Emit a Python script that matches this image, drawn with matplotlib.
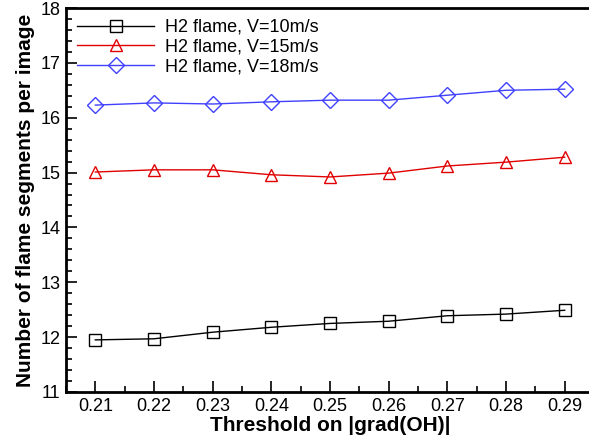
import matplotlib
matplotlib.use("Agg")
import matplotlib.pyplot as plt
from matplotlib.ticker import MultipleLocator

plt.rcParams['font.family'] = ['Liberation Sans', 'DejaVu Sans']

# Данные
threshold = [0.21, 0.22, 0.23, 0.24, 0.25, 0.26, 0.27, 0.28, 0.29]
v10 = [11.95, 11.97, 12.09, 12.18, 12.25, 12.29, 12.39, 12.42, 12.49]
v15 = [15.01, 15.05, 15.05, 14.96, 14.92, 14.99, 15.12, 15.19, 15.28]
v18 = [16.23, 16.27, 16.25, 16.29, 16.32, 16.32, 16.41, 16.50, 16.52]
labels = ['H2 flame, V=10m/s', 'H2 flame, V=15m/s', 'H2 flame, V=18m/s']

fig = plt.figure(figsize=(5.89, 4.42), dpi=100)
ax = fig.add_axes([66 / 589, 50 / 442, 528 / 589, 384 / 442])

ax.plot(threshold, v10, color='black', lw=1, marker='s', ms=8,
        mfc='none', mew=1, label=labels[0])
ax.plot(threshold, v15, color='#e00000', lw=1, marker='^', ms=9,
        mfc='none', mew=1, label=labels[1])
ax.plot(threshold, v18, color='#4040ff', lw=1, marker='D', ms=8,
        mfc='none', mew=1, label=labels[2])

ax.set_xlim(0.205, 0.295)
ax.set_ylim(11, 18)
ax.xaxis.set_minor_locator(MultipleLocator(0.005))
ax.yaxis.set_major_locator(MultipleLocator(1))
ax.yaxis.set_minor_locator(MultipleLocator(0.2))
ax.set_xticks(threshold)
ax.set_xticklabels([f"{t:.2f}" for t in threshold])

ax.tick_params(which='both', direction='in', labelsize=13, width=1.2)
ax.tick_params(which='major', length=8, pad=4)
ax.tick_params(which='minor', length=4)
for s in ax.spines.values():
    s.set_linewidth(2)

ax.set_xlabel('Threshold on |grad(OH)|', fontsize=15, fontweight='bold', labelpad=1)
ax.set_ylabel('Number of flame segments per image', fontsize=15, fontweight='bold',
              labelpad=4)

ax.legend(loc='upper left', frameon=False, fontsize=13, handlelength=4.3,
          handletextpad=0.6, labelspacing=0.15, borderaxespad=0.2)

plt.savefig('out.png', dpi=100)
